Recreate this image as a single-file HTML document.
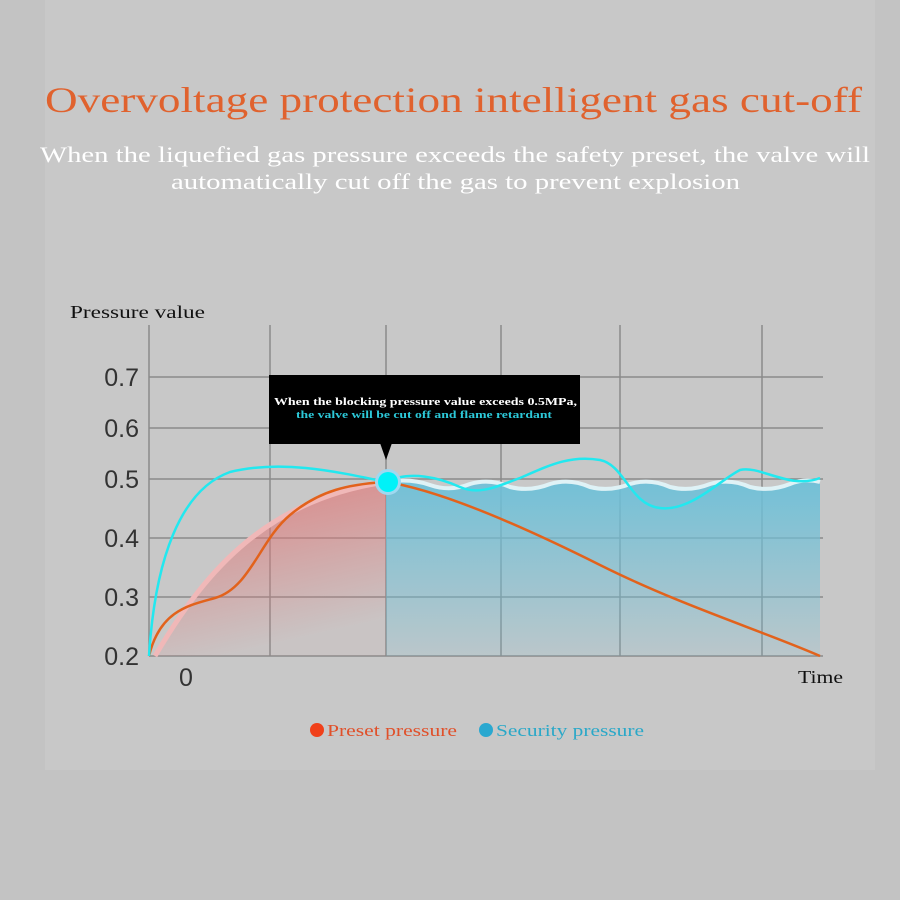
<!DOCTYPE html>
<html><head><meta charset="utf-8"><style>
body{margin:0;width:900px;height:900px;background:#c3c3c3;overflow:hidden;font-family:"Liberation Serif",serif}
svg{display:block}
</style></head><body>
<svg width="900" height="900" viewBox="0 0 900 900" xmlns="http://www.w3.org/2000/svg">
<defs>
<linearGradient id="rg" x1="0" y1="0" x2="0.3" y2="1"><stop offset="0" stop-color="#e07a7a" stop-opacity="0.9"/><stop offset="1" stop-color="#e07a7a" stop-opacity="0.05"/></linearGradient>
<linearGradient id="bg" x1="0" y1="0" x2="0" y2="1"><stop offset="0" stop-color="#6ec0d8" stop-opacity="0.95"/><stop offset="1" stop-color="#6ec0d8" stop-opacity="0.15"/></linearGradient>
</defs>
<rect x="45" y="0" width="830" height="770" fill="#c8c8c8"/>
<text x="45" y="112" textLength="817" lengthAdjust="spacingAndGlyphs" font-size="36" fill="#e0622e">Overvoltage protection intelligent gas cut-off</text>
<text x="40" y="162" textLength="830" lengthAdjust="spacingAndGlyphs" font-size="22" fill="#fff">When the liquefied gas pressure exceeds the safety preset, the valve will</text>
<text x="171" y="189" textLength="569" lengthAdjust="spacingAndGlyphs" font-size="22" fill="#fff">automatically cut off the gas to prevent explosion</text>
<text x="70" y="318" textLength="135" lengthAdjust="spacingAndGlyphs" font-size="18" fill="#111">Pressure value</text>
<g stroke="#8a8a8a" stroke-width="1.5">
<line x1="149" y1="325" x2="149" y2="656"/><line x1="270" y1="325" x2="270" y2="656"/><line x1="386" y1="325" x2="386" y2="656"/><line x1="501" y1="325" x2="501" y2="656"/><line x1="620" y1="325" x2="620" y2="656"/><line x1="762" y1="325" x2="762" y2="656"/>
<line x1="149" y1="377" x2="823" y2="377"/><line x1="149" y1="428" x2="823" y2="428"/><line x1="149" y1="479" x2="823" y2="479"/><line x1="149" y1="538" x2="823" y2="538"/><line x1="149" y1="597" x2="823" y2="597"/><line x1="149" y1="656" x2="823" y2="656"/>
</g>
<g font-family="Liberation Sans,sans-serif" font-size="25" fill="#333" text-anchor="end">
<text x="139" y="386">0.7</text><text x="139" y="437">0.6</text><text x="139" y="488">0.5</text><text x="139" y="547">0.4</text><text x="139" y="606">0.3</text><text x="139" y="665">0.2</text>
</g>
<text x="186" y="686" font-family="Liberation Sans,sans-serif" font-size="25" fill="#333" text-anchor="middle">0</text>
<text x="798" y="683" textLength="45" lengthAdjust="spacingAndGlyphs" font-size="18" fill="#111">Time</text>
<path d="M155,656 C200,580 260,500 386,482 L386,656 Z" fill="url(#rg)"/>
<path d="M155,656 C200,580 260,500 386,482" fill="none" stroke="#f0b8b8" stroke-width="5"/>
<path d="M386,482 Q410,478 430,485 Q450,492 470,484 Q490,478 510,487 Q530,492 550,484 Q570,478 590,487 Q610,492 630,484 Q650,478 670,487 Q690,492 710,484 Q730,478 750,487 Q770,492 790,484 Q805,478 820,482 L820,656 L386,656 Z" fill="url(#bg)"/>
<path d="M386,482 Q410,478 430,485 Q450,492 470,484 Q490,478 510,487 Q530,492 550,484 Q570,478 590,487 Q610,492 630,484 Q650,478 670,487 Q690,492 710,484 Q730,478 750,487 Q770,492 790,484 Q805,478 820,482" fill="none" stroke="#dff2f6" stroke-width="4"/>
<path d="M149,656 C160,610 190,605 215,598 C250,588 260,540 290,515 C320,490 350,484 386,482 C440,490 520,525 600,565 C680,605 760,630 820,656" fill="none" stroke="#e2621c" stroke-width="2.5"/>
<path d="M149,656 C155,560 180,490 230,472 C280,460 330,470 386,482 C410,470 440,478 460,487 C480,496 500,485 520,478 C550,465 570,455 600,460 C625,465 630,505 660,508 C690,512 720,480 740,470 C760,465 790,490 820,478" fill="none" stroke="#22e8ef" stroke-width="2.5"/>
<circle cx="388" cy="482" r="13" fill="#9fd8f0"/>
<circle cx="388" cy="482" r="10" fill="#00f2f8"/>
<rect x="269" y="375" width="311" height="69" fill="#000"/>
<path d="M380,443 L392,443 L386,460 Z" fill="#000"/>
<text x="274" y="405" textLength="303" lengthAdjust="spacingAndGlyphs" font-size="11" fill="#fff" font-weight="bold">When the blocking pressure value exceeds 0.5MPa,</text>
<text x="296" y="418" textLength="256" lengthAdjust="spacingAndGlyphs" font-size="11" fill="#2cc8d8" font-weight="bold">the valve will be cut off and flame retardant</text>
<circle cx="317" cy="730" r="7" fill="#f0401a"/>
<text x="327" y="736" textLength="130" lengthAdjust="spacingAndGlyphs" font-size="17" fill="#e0502a">Preset pressure</text>
<circle cx="486" cy="730" r="7" fill="#2aa8d0"/>
<text x="496" y="736" textLength="148" lengthAdjust="spacingAndGlyphs" font-size="17" fill="#2aa8c8">Security pressure</text>
</svg>
</body></html>
